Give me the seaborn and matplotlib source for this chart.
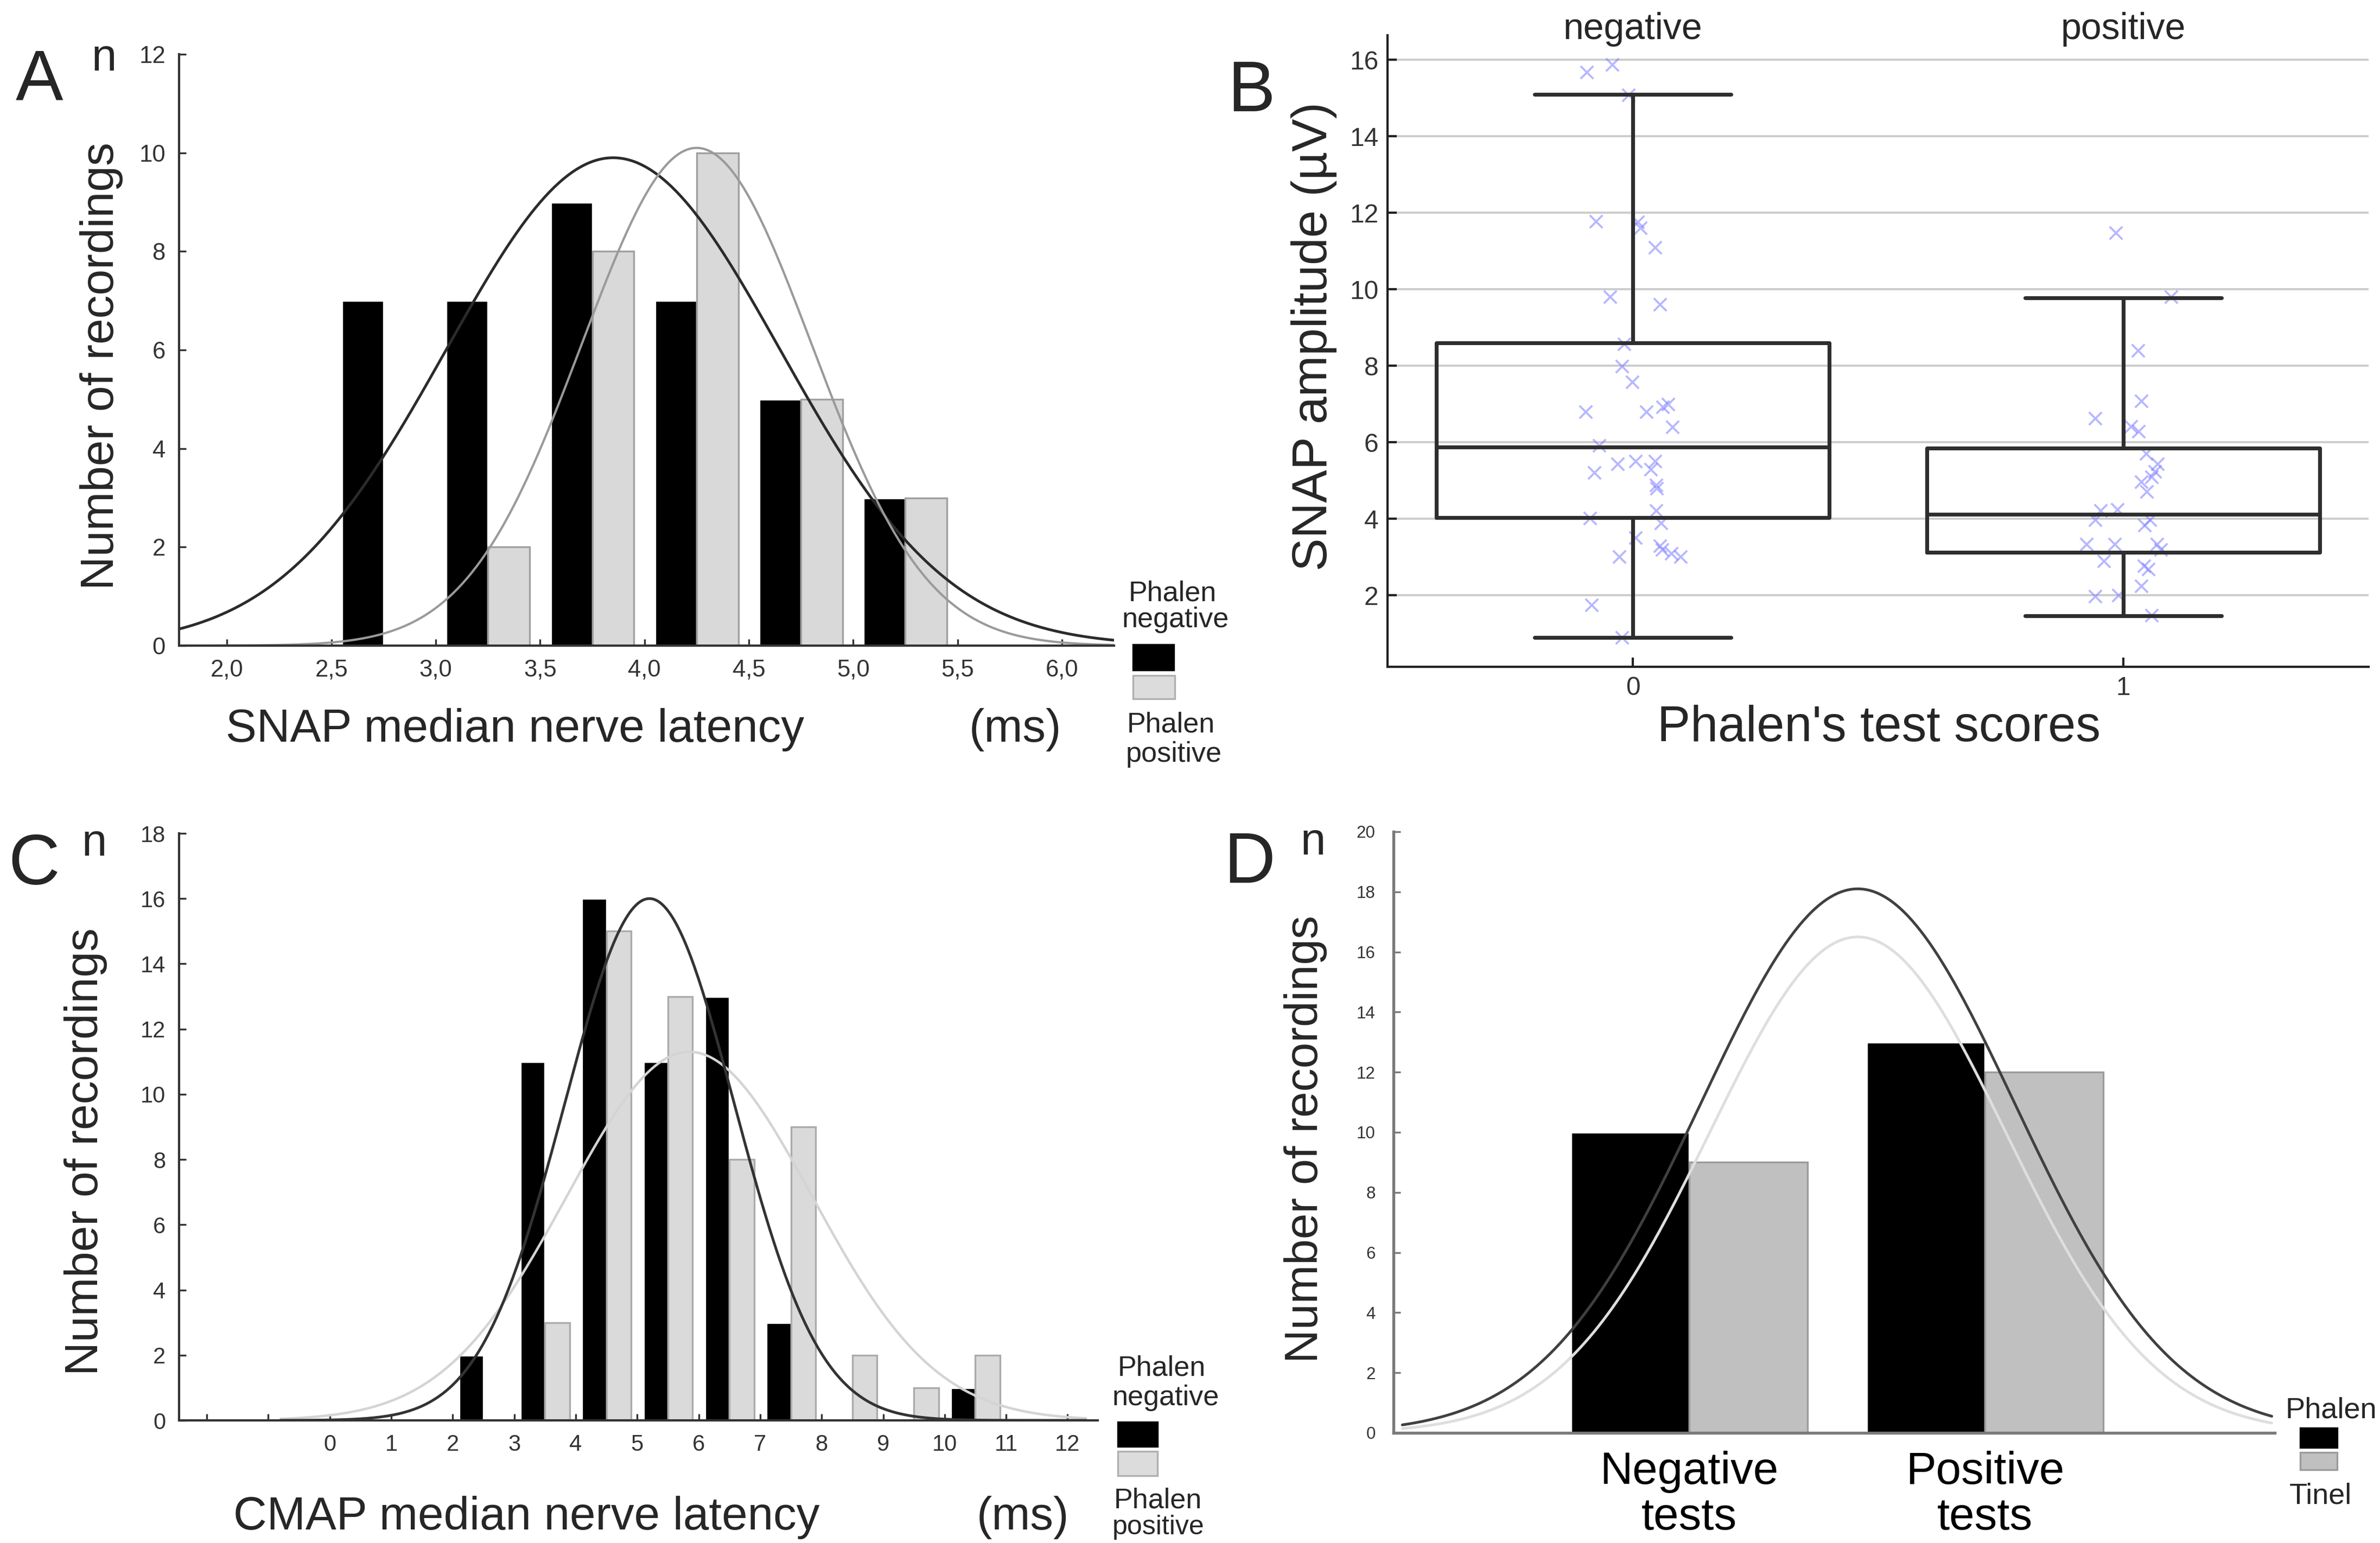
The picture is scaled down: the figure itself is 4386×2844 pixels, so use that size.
import numpy as np
import pandas as pd
import seaborn as sns
import matplotlib.pyplot as plt
from matplotlib.patches import Rectangle
from matplotlib.ticker import FuncFormatter
from matplotlib.transforms import blended_transform_factory

# ---------------- values ----------------
# A: SNAP median nerve latency histogram (bin centres in ms)
snap_bins = [2.75, 3.25, 3.75, 4.25, 4.75, 5.25]
snap_neg = [7, 7, 9, 7, 5, 3]
snap_pos = [0, 2, 8, 10, 5, 3]
snap_fit_mean = [3.85, 4.25]      # fitted normal curves (negative, positive)
snap_fit_sd = [0.80, 0.55]
snap_fit_peak = [9.9, 10.1]
snap_xticks = [2.0, 2.5, 3.0, 3.5, 4.0, 4.5, 5.0, 5.5, 6.0]

# B: SNAP amplitude by Phalen's test score
box_neg = [0.90, 4.03, 5.88, 8.60, 15.10]   # whisker lo, Q1, median, Q3, whisker hi
box_pos = [1.47, 3.12, 4.12, 5.84, 9.78]
amp_neg = [15.67, 15.87, 15.08, 11.78, 11.76, 11.60, 11.09, 9.80, 9.60, 8.57,
           7.99, 7.58, 6.79, 6.79, 6.92, 6.99, 6.40, 5.91, 5.21, 5.43,
           5.50, 5.50, 5.30, 4.88, 4.80, 4.01, 4.22, 3.89, 3.51, 3.30,
           3.20, 3.10, 3.01, 3.01, 1.74, 0.90]
jit_neg = [-0.094, -0.042, -0.009, -0.075, 0.010, 0.016, 0.045, -0.046, 0.055, -0.018,
           -0.022, -0.001, -0.096, 0.028, 0.061, 0.072, 0.081, -0.069, -0.079, -0.031,
           0.006, 0.045, 0.037, 0.048, 0.049, -0.087, 0.048, 0.057, 0.006, 0.055,
           0.060, 0.078, 0.097, -0.028, -0.084, -0.022]
amp_pos = [11.48, 9.80, 8.40, 7.08, 6.62, 6.42, 6.29, 5.70, 5.43, 5.24,
           5.10, 4.97, 4.71, 3.98, 4.22, 4.25, 3.98, 3.83, 3.33, 3.33,
           3.33, 3.20, 2.90, 2.77, 2.69, 2.24, 1.98, 2.00, 1.48]
jit_pos = [-0.016, 0.097, 0.030, 0.036, -0.058, 0.015, 0.031, 0.046, 0.070, 0.064,
           0.057, 0.036, 0.048, -0.058, -0.046, -0.012, 0.054, 0.043, -0.075, -0.018,
           0.069, 0.076, -0.040, 0.042, 0.051, 0.036, -0.058, -0.010, 0.058]
score_labels = ['negative', 'positive']

# C: CMAP median nerve latency histogram
cmap_bins = [2.5, 3.5, 4.5, 5.5, 6.5, 7.5, 8.5, 9.5, 10.5]
cmap_neg = [2, 11, 16, 11, 13, 3, 0, 0, 1]
cmap_pos = [0, 3, 15, 13, 8, 9, 2, 1, 2]
cmap_fit_mean = [5.2, 5.85]
cmap_fit_sd = [1.38, 2.0]
cmap_fit_peak = [16.0, 11.3]
cmap_xticks = list(range(-2, 13))

# D: negative / positive tests
test_groups = ['Negative\ntests', 'Positive\ntests']
phalen_counts = [10, 13]
tinel_counts = [9, 12]
test_fit_mean = [0.57, 0.57]       # Phalen, Tinel
test_fit_sd = [0.53, 0.50]
test_fit_peak = [18.1, 16.5]

# ---------------- figure ----------------
W, H = 4386, 2844
DPI = 300

sns.set_style('ticks')
plt.rcParams['font.family'] = ['Liberation Sans', 'DejaVu Sans']

fig = plt.figure(figsize=(W / DPI, H / DPI), dpi=DPI)


def fx(px):
    return px / W


def fy(py):
    return 1 - py / H


def add_ax(l, t, r, b):
    return fig.add_axes([l / W, 1 - b / H, (r - l) / W, (b - t) / H])


def normal_curve(x, mean, sd, peak):
    return peak * np.exp(-0.5 * ((x - mean) / sd) ** 2)


def style_axes(ax, spine_color, lsize, lw=1.0):
    sns.despine(ax=ax)
    for s in ['left', 'bottom']:
        ax.spines[s].set_color(spine_color)
        ax.spines[s].set_linewidth(lw)
    ax.tick_params(direction='in', length=3, width=0.8, color=spine_color,
                   labelsize=lsize, labelcolor='#333333', pad=6)
    ax.set_xlabel('')
    ax.set_ylabel('')


def legend_box(l, t, r, b, face, edge):
    fig.add_artist(Rectangle((fx(l), fy(b)), (r - l) / W, (b - t) / H,
                             transform=fig.transFigure, facecolor=face,
                             edgecolor=edge, linewidth=0.8))


# ---- A ----
ax_a = add_ax(330, 100, 2053, 1190)
snap_df = pd.DataFrame({'latency': snap_bins * 2,
                        'count': snap_neg + snap_pos,
                        'Phalen': ['negative'] * len(snap_bins) + ['positive'] * len(snap_bins)})
sns.barplot(data=snap_df, x='latency', y='count', hue='Phalen',
            hue_order=['negative', 'positive'],
            palette={'negative': 'black', 'positive': '#d9d9d9'},
            native_scale=True, width=0.8, gap=0, errorbar=None, saturation=1,
            legend=False, linewidth=0.8, ax=ax_a)
for bar in ax_a.containers[1]:
    bar.set_edgecolor('#a0a0a0')
xs = np.linspace(1.77, 6.25, 400)
sns.lineplot(x=xs, y=normal_curve(xs, snap_fit_mean[0], snap_fit_sd[0], snap_fit_peak[0]),
             color='#2b2b2b', linewidth=1.2, ax=ax_a)
sns.lineplot(x=xs, y=normal_curve(xs, snap_fit_mean[1], snap_fit_sd[1], snap_fit_peak[1]),
             color='#9a9a9a', linewidth=1.0, ax=ax_a)
ax_a.set_xlim(1.77, 6.25)
ax_a.set_ylim(0, 12)
ax_a.set_xticks(snap_xticks)
ax_a.xaxis.set_major_formatter(FuncFormatter(lambda v, p: f"{v:.1f}".replace('.', ',')))
ax_a.set_yticks(range(0, 13, 2))
style_axes(ax_a, '#333333', 10.5)

fig.text(fx(29), fy(184), 'A', fontsize=31.5, va='baseline', ha='left')
fig.text(fx(169), fy(130), 'n', fontsize=20, va='baseline', ha='left')
fig.text(fx(187), fy(675), 'Number of recordings', fontsize=20.6, rotation=90,
         ha='center', va='center')
fig.text(fx(416), fy(1367), 'SNAP median nerve latency', fontsize=20.5, va='baseline')
fig.text(fx(1786), fy(1367), '(ms)', fontsize=20.5, va='baseline')
fig.text(fx(2080), fy(1107), 'Phalen', fontsize=12.5, va='baseline')
fig.text(fx(2068), fy(1156), 'negative', fontsize=12.5, va='baseline')
legend_box(2088, 1188, 2163, 1235, 'black', 'black')
legend_box(2088, 1245, 2165, 1288, '#dcdcdc', '#b0b0b0')
fig.text(fx(2077), fy(1349), 'Phalen', fontsize=12.5, va='baseline')
fig.text(fx(2075), fy(1404), 'positive', fontsize=12.5, va='baseline')

# ---- B ----
ax_b = add_ax(2557, 65, 4365, 1229)
box_df = pd.DataFrame({'score': [0] * 5 + [1] * 5, 'amp': box_neg + box_pos})
sns.boxplot(data=box_df, x='score', y='amp', whis=(0, 100), width=0.8, fill=False,
            color='#2e2e2e', linewidth=1.7, ax=ax_b)
# whisker caps half as wide as the boxes
for line in ax_b.lines:
    xd = np.asarray(line.get_xdata(), dtype=float)
    yd = np.asarray(line.get_ydata(), dtype=float)
    if len(xd) == 2 and yd[0] == yd[1] and 0 < xd[1] - xd[0] < 0.5:
        c = xd.mean()
        line.set_xdata([c - 0.2, c + 0.2])
pts_x = np.concatenate([np.array(jit_neg), 1 + np.array(jit_pos)])
pts_y = amp_neg + amp_pos
sns.scatterplot(x=pts_x, y=pts_y, marker='x', color='#7c7cff', alpha=0.55, s=32,
                linewidth=0.9, legend=False, ax=ax_b)
ax_b.set_xlim(-0.5, 1.5)
ax_b.set_ylim(0.13, 16.64)
ax_b.set_yticks(range(2, 17, 2))
ax_b.yaxis.grid(True, color='#cbcbcb', linewidth=0.9)
ax_b.set_axisbelow(True)
style_axes(ax_b, '#222222', 11.5)
ax_b.tick_params(length=4, width=1.0, pad=4)
top_tr = blended_transform_factory(ax_b.transData, fig.transFigure)
for i, lab in enumerate(score_labels):
    ax_b.text(i, fy(72), lab, transform=top_tr, fontsize=16.3, ha='center', va='baseline')

fig.text(fx(2262), fy(205), 'B', fontsize=31.5, va='baseline', ha='left')
fig.text(fx(2421), fy(620), 'SNAP amplitude (µV)', fontsize=21.8, rotation=90,
         ha='center', va='center')
fig.text(fx(3462), fy(1366), "Phalen's test scores", fontsize=22, ha='center', va='baseline')

# ---- C ----
ax_c = add_ax(330, 1536, 2023, 2618)
cmap_df = pd.DataFrame({'latency': cmap_bins * 2,
                        'count': cmap_neg + cmap_pos,
                        'Phalen': ['negative'] * len(cmap_bins) + ['positive'] * len(cmap_bins)})
sns.barplot(data=cmap_df, x='latency', y='count', hue='Phalen',
            hue_order=['negative', 'positive'],
            palette={'negative': 'black', 'positive': '#dadada'},
            native_scale=True, width=0.8, gap=0, errorbar=None, saturation=1,
            legend=False, linewidth=0.8, ax=ax_c)
for bar in ax_c.containers[1]:
    bar.set_edgecolor('#ababab')
xs = np.linspace(-0.8, 12.3, 400)
sns.lineplot(x=xs, y=normal_curve(xs, cmap_fit_mean[1], cmap_fit_sd[1], cmap_fit_peak[1]),
             color='#d4d4d4', linewidth=1.1, ax=ax_c)
sns.lineplot(x=xs, y=normal_curve(xs, cmap_fit_mean[0], cmap_fit_sd[0], cmap_fit_peak[0]),
             color='#333333', linewidth=1.2, ax=ax_c)
ax_c.set_xlim(-2.45, 12.49)
ax_c.set_ylim(0, 18)
ax_c.set_xticks(cmap_xticks)
ax_c.set_xticklabels(['' if t < 0 else str(t) for t in cmap_xticks])
ax_c.set_yticks(range(0, 19, 2))
style_axes(ax_c, '#333333', 10)

fig.text(fx(15), fy(1630), 'C', fontsize=31.5, va='baseline', ha='left')
fig.text(fx(150), fy(1577), 'n', fontsize=20, va='baseline', ha='left')
fig.text(fx(158), fy(2123), 'Number of recordings', fontsize=20.6, rotation=90,
         ha='center', va='center')
fig.text(fx(430), fy(2819), 'CMAP median nerve latency', fontsize=20.5, va='baseline')
fig.text(fx(1800), fy(2819), '(ms)', fontsize=20.5, va='baseline')
fig.text(fx(2060), fy(2536), 'Phalen', fontsize=12.5, va='baseline')
fig.text(fx(2050), fy(2590), 'negative', fontsize=12.5, va='baseline')
legend_box(2060, 2621, 2133, 2666, 'black', 'black')
legend_box(2060, 2675, 2133, 2720, '#dcdcdc', '#b0b0b0')
fig.text(fx(2053), fy(2779), 'Phalen', fontsize=12.5, va='baseline')
fig.text(fx(2050), fy(2828), 'positive', fontsize=12, va='baseline')

# ---- D ----
ax_d = add_ax(2568, 1533, 4192, 2641)
test_df = pd.DataFrame({'group': test_groups * 2,
                        'count': phalen_counts + tinel_counts,
                        'test': ['Phalen'] * 2 + ['Tinel'] * 2})
sns.barplot(data=test_df, x='group', y='count', hue='test', hue_order=['Phalen', 'Tinel'],
            palette={'Phalen': 'black', 'Tinel': '#c0c0c0'}, width=0.8, gap=0,
            errorbar=None, saturation=1, legend=False, linewidth=0.8, ax=ax_d)
for bar in ax_d.containers[1]:
    bar.set_edgecolor('#9c9c9c')
xs = np.linspace(-0.97, 1.97, 400)
sns.lineplot(x=xs, y=normal_curve(xs, test_fit_mean[1], test_fit_sd[1], test_fit_peak[1]),
             color='#dedede', linewidth=1.2, ax=ax_d)
sns.lineplot(x=xs, y=normal_curve(xs, test_fit_mean[0], test_fit_sd[0], test_fit_peak[0]),
             color='#404040', linewidth=1.2, ax=ax_d)
ax_d.set_xlim(-1.0, 1.98)
ax_d.set_ylim(0, 20)
ax_d.set_yticks(range(0, 21, 2))
style_axes(ax_d, '#7a7a7a', 7.5, lw=1.3)
ax_d.tick_params(axis='y', pad=8)
ax_d.set_xticks([0, 1])
ax_d.set_xticklabels(test_groups, fontsize=20, color='black', linespacing=1.1)
ax_d.tick_params(axis='x', length=0, pad=8, labelcolor='black')

fig.text(fx(2255), fy(1627), 'D', fontsize=31.5, va='baseline', ha='left')
fig.text(fx(2397), fy(1575), 'n', fontsize=20, va='baseline', ha='left')
fig.text(fx(2406), fy(2100), 'Number of recordings', fontsize=20.6, rotation=90,
         ha='center', va='center')
fig.text(fx(4212), fy(2614), 'Phalen', fontsize=13, va='baseline')
legend_box(4239, 2632, 4307, 2668, 'black', 'black')
legend_box(4239, 2677, 4307, 2709, '#c0c0c0', '#9c9c9c')
fig.text(fx(4219), fy(2772), 'Tinel', fontsize=13, va='baseline')

fig.savefig('out.png', dpi=DPI)
